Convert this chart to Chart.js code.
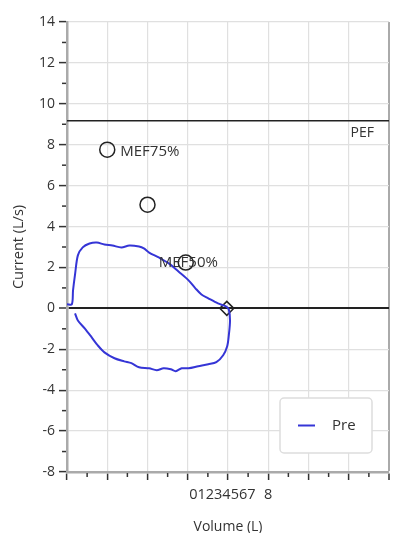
<!DOCTYPE html>
<html>
<head>
<meta charset="utf-8">
<script src="https://cdn.jsdelivr.net/npm/chart.js@4.4.0/dist/chart.umd.min.js"></script>
<style>
  html, body { margin: 0; padding: 0; background: #fff; }
  #wrap { width: 398px; height: 533px; }
</style>
</head>
<body>
<div id="wrap"><canvas id="grafico"></canvas></div>
<script>
// --- datos ---

// curva flujo-volumen (Pre)
const loopVolume = [0, 0.12, 0.15, 0.2, 0.27, 0.39, 0.56, 0.74, 0.93, 1.13, 1.35, 1.55, 1.79, 1.91, 2.04, 2.28, 2.53, 2.77, 3.02, 3.19, 3.34, 3.51, 3.75, 3.95, 4.02, 4.05, 4.02, 3.98, 3.88, 3.71, 3.51, 3.26, 3.02, 2.85, 2.7, 2.58, 2.4, 2.23, 2.04, 1.79, 1.6, 1.42, 1.18, 0.93, 0.76, 0.61, 0.44, 0.27, 0.2];
const loopFlow = [0.2, 0.2, 0.88, 1.66, 2.59, 2.98, 3.17, 3.22, 3.12, 3.07, 2.98, 3.07, 3.02, 2.93, 2.73, 2.49, 2.2, 1.8, 1.37, 0.98, 0.68, 0.49, 0.24, 0.1, -0.05, -0.59, -1.32, -1.85, -2.29, -2.63, -2.73, -2.83, -2.93, -2.93, -3.07, -2.98, -2.93, -3.02, -2.93, -2.88, -2.68, -2.59, -2.44, -2.15, -1.8, -1.41, -0.98, -0.59, -0.24];

// puntos MEF
const markerVolume = [1, 2, 2.95];
const markerFlow = [7.76, 5.07, 2.24];
const markerLabels = ['MEF75%', '', 'MEF50%'];

// fin de la espiracion (rombo)
const endVolume = [3.97];
const endFlow = [0];

// PEF
const pefValue = 9.17;
const pefLabel = 'PEF';

// ejes
const xTickValues = [0, 1, 2, 3, 4, 5, 6, 7, 8];
const xTickLabels = ['', '', '', '', '01234567   ', '8', '', '', ''];
const yTickValues = [-8, -6, -4, -2, 0, 2, 4, 6, 8, 10, 12, 14];

const serieNombre = 'Pre';
const colorCurva = '#3535d6';
const fuente = '"Open Sans", "DejaVu Sans", sans-serif';

// --- plugins ---

// marcas menores en los ejes
const marcasMenores = {
    id: 'marcasMenores',
    afterDraw(chart) {
        const ctx = chart.ctx;
        const x = chart.scales.x, y = chart.scales.y;
        ctx.save();
        ctx.strokeStyle = '#333';
        ctx.lineWidth = 1.5;
        for (let i = 0; i < xTickValues.length - 1; i++) {
            const px = x.getPixelForValue((xTickValues[i] + xTickValues[i + 1]) / 2);
            ctx.beginPath();
            ctx.moveTo(px, y.bottom + 1);
            ctx.lineTo(px, y.bottom + 5);
            ctx.stroke();
        }
        for (let i = 0; i < yTickValues.length - 1; i++) {
            const py = y.getPixelForValue((yTickValues[i] + yTickValues[i + 1]) / 2);
            ctx.beginPath();
            ctx.moveTo(x.left - 5, py);
            ctx.lineTo(x.left - 1, py);
            ctx.stroke();
        }
        ctx.restore();
    }
};

// etiquetas MEF y PEF
const etiquetas = {
    id: 'etiquetas',
    afterDatasetsDraw(chart) {
        const ctx = chart.ctx;
        const x = chart.scales.x, y = chart.scales.y;
        const desplaz = [[13, 2], [0, 0], [-27, 0]];
        ctx.save();
        ctx.font = '15px ' + fuente;
        ctx.fillStyle = '#333';
        ctx.textBaseline = 'middle';
        ctx.textAlign = 'left';
        markerLabels.forEach((txt, i) => {
            if (!txt) return;
            ctx.fillText(txt, x.getPixelForValue(markerVolume[i]) + desplaz[i][0], y.getPixelForValue(markerFlow[i]) + desplaz[i][1]);
        });
        ctx.font = '14px ' + fuente;
        ctx.textAlign = 'right';
        ctx.fillText(pefLabel, chart.chartArea.right - 15, y.getPixelForValue(pefValue) + 12);
        ctx.restore();
    }
};

// leyenda dentro del area
const leyenda = {
    id: 'leyenda',
    afterDraw(chart) {
        const ctx = chart.ctx;
        const a = chart.chartArea;
        const w = 92, h = 55;
        const bx = a.right - 17 - w, by = a.bottom - 19 - h;
        ctx.save();
        ctx.fillStyle = '#fff';
        ctx.strokeStyle = '#ddd';
        ctx.lineWidth = 1.5;
        ctx.beginPath();
        ctx.roundRect(bx, by, w, h, 4);
        ctx.fill();
        ctx.stroke();
        ctx.strokeStyle = colorCurva;
        ctx.lineWidth = 2;
        ctx.beginPath();
        ctx.moveTo(bx + 18, by + h / 2);
        ctx.lineTo(bx + 35, by + h / 2);
        ctx.stroke();
        ctx.fillStyle = '#333';
        ctx.font = '15px ' + fuente;
        ctx.textBaseline = 'middle';
        ctx.fillText(serieNombre, bx + 52, by + h / 2);
        ctx.restore();
    }
};

// --- grafico ---

let chart;
function graficarCurva() {
    const grafico = document.getElementById('grafico');
    if (chart) chart.destroy();

    const datosCurva = loopVolume.map((v, i) => ({x: v, y: loopFlow[i]}));
    const datosMarcas = markerVolume.map((v, i) => ({x: v, y: markerFlow[i]}));
    const datosFin = endVolume.map((v, i) => ({x: v, y: endFlow[i]}));
    const datosPef = [{x: xTickValues[0], y: pefValue}, {x: xTickValues[xTickValues.length - 1], y: pefValue}];

    chart = new Chart(grafico, {
        type: 'scatter',
        data: {
            datasets: [
                {
                    label: pefLabel,
                    data: datosPef,
                    showLine: true,
                    borderColor: '#222',
                    borderWidth: 1.5,
                    pointRadius: 0
                },
                {
                    label: serieNombre,
                    data: datosCurva,
                    showLine: true,
                    borderColor: colorCurva,
                    borderWidth: 2,
                    pointRadius: 0,
                    tension: 0.3
                },
                {
                    label: 'MEF',
                    data: datosMarcas,
                    pointStyle: 'circle',
                    pointRadius: 7.5,
                    borderColor: '#222',
                    borderWidth: 1.5,
                    backgroundColor: 'rgba(0,0,0,0)'
                },
                {
                    label: 'Fin',
                    data: datosFin,
                    pointStyle: 'rectRot',
                    pointRadius: 7,
                    borderColor: '#222',
                    borderWidth: 1.5,
                    backgroundColor: 'rgba(0,0,0,0)'
                }
            ]
        },
        options: {
            responsive: true,
            maintainAspectRatio: false,
            animation: false,
            layout: { padding: { top: 22, right: 5, left: 0, bottom: 0 } },
            scales: {
                x: {
                    type: 'linear',
                    min: xTickValues[0],
                    max: xTickValues[xTickValues.length - 1],
                    afterBuildTicks: (s) => { s.ticks = xTickValues.map(v => ({value: v})); },
                    afterFit: (s) => { s.height = 61; },
                    ticks: {
                        autoSkip: false,
                        maxRotation: 0,
                        padding: 6,
                        color: '#333',
                        font: { family: fuente, size: 14.5 },
                        callback: (v) => xTickLabels[xTickValues.indexOf(v)]
                    },
                    grid: {
                        color: (c) => c.tick && c.tick.value === xTickValues[xTickValues.length - 1] ? '#aaa' : '#e0e0e0',
                        lineWidth: (c) => c.tick && c.tick.value === xTickValues[xTickValues.length - 1] ? 2 : 1.2,
                        tickColor: '#333',
                        tickLength: 8,
                        tickWidth: 1.5
                    },
                    border: { color: '#aaa', width: 2.5 },
                    title: {
                        display: true,
                        text: 'Volume (L)',
                        color: '#333',
                        font: { family: fuente, size: 14, lineHeight: 0.9 },
                        padding: { top: 0, bottom: 0 }
                    }
                },
                y: {
                    type: 'linear',
                    min: yTickValues[0],
                    max: yTickValues[yTickValues.length - 1],
                    afterBuildTicks: (s) => { s.ticks = yTickValues.map(v => ({value: v})); },
                    afterFit: (s) => { s.width = 67; },
                    ticks: {
                        padding: 4,
                        color: '#333',
                        font: { family: fuente, size: 14 }
                    },
                    grid: {
                        color: (c) => c.tick && c.tick.value === 0 ? '#222' : '#e0e0e0',
                        lineWidth: (c) => c.tick && c.tick.value === 0 ? 2 : 1.2,
                        tickColor: '#333',
                        tickLength: 8,
                        tickWidth: 1.5
                    },
                    border: { color: '#aaa', width: 2.5 },
                    title: {
                        display: true,
                        text: 'Current (L/s)',
                        color: '#333',
                        font: { family: fuente, size: 14.5, lineHeight: 1.2 },
                        padding: { top: 10, bottom: 0 }
                    }
                }
            },
            plugins: {
                legend: { display: false },
                tooltip: { enabled: false }
            }
        },
        plugins: [marcasMenores, etiquetas, leyenda]
    });
}

graficarCurva();
</script>
</body>
</html>
